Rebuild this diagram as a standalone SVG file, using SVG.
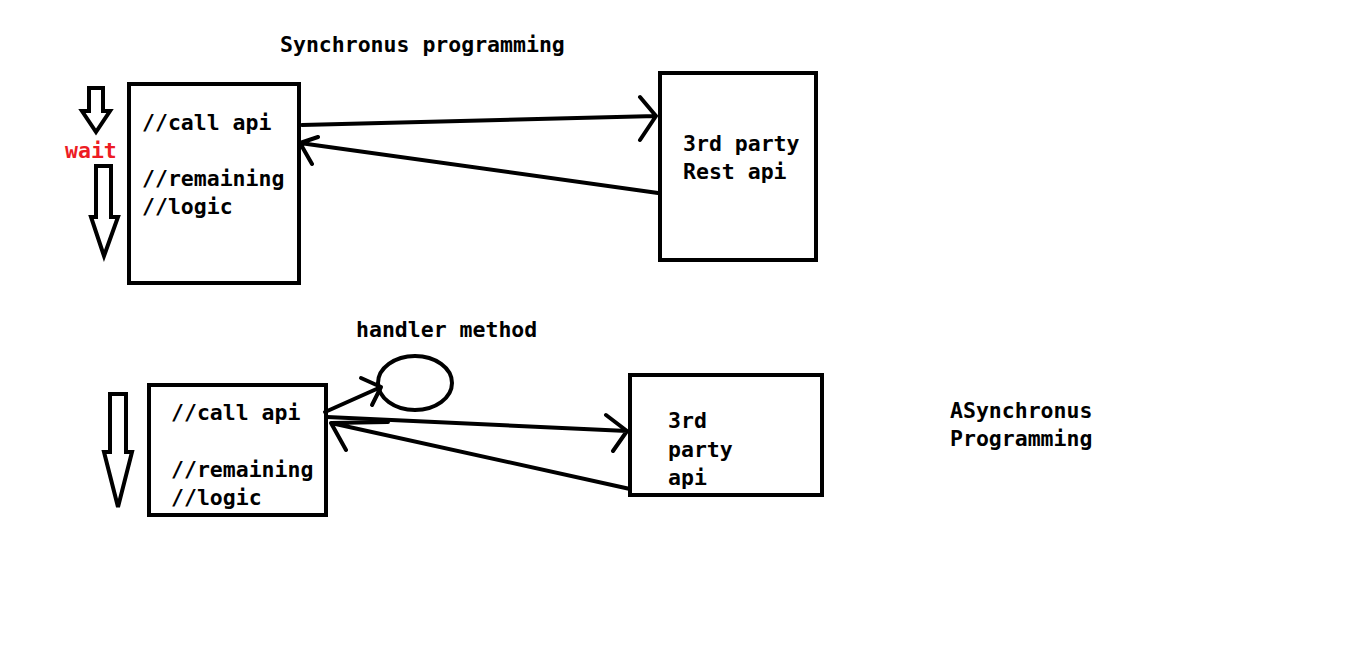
<svg xmlns="http://www.w3.org/2000/svg" width="1359" height="654" viewBox="0 0 1359 654">
<style>
.t{font-family:"DejaVu Sans Mono","Liberation Mono",monospace;font-weight:bold;font-size:21.5px;fill:#000}
.box{fill:#fff;stroke:#000;stroke-width:4}
.ln{fill:none;stroke:#000;stroke-width:4;stroke-linecap:round;stroke-linejoin:round}
.ho{fill:#fff;stroke:#000;stroke-width:4;stroke-linejoin:miter}
</style>
<rect width="1359" height="654" fill="#fff"/>
<text class="t" x="280" y="52">Synchronus programming</text>
<g id="sync-caller">
<rect class="box" x="129" y="84" width="170" height="199"/>
<text class="t" x="142" y="130">//call api</text>
<text class="t" x="142" y="186">//remaining</text>
<text class="t" x="142" y="214">//logic</text>
</g>
<g id="sync-api">
<rect class="box" x="660" y="73" width="156" height="187"/>
<text class="t" x="683" y="151">3rd party</text>
<text class="t" x="683" y="179">Rest api</text>
</g>
<g id="wait-arrows">
<polygon class="ho" points="89,88 103,88 103,111 110,111 96,132 82,111 89,111"/>
<text x="65" y="158" style="font-family:'DejaVu Sans Mono','Liberation Mono',monospace;font-weight:bold;font-size:21.5px;fill:#ed1c24">wait</text>
<polygon class="ho" points="96,166 111,166 111,217 118,217 104,256 91,217 96,217"/>
</g>
<g id="async-caller">
<rect class="box" x="149" y="385" width="177" height="130"/>
<text class="t" x="171" y="420">//call api</text>
<text class="t" x="171" y="477">//remaining</text>
<text class="t" x="171" y="505">//logic</text>
</g>
<g id="handler">
<text class="t" x="356" y="337">handler method</text>
<ellipse cx="415" cy="383" rx="37" ry="27" fill="#fff" stroke="#000" stroke-width="4"/>
</g>
<g id="async-api">
<rect class="box" x="630" y="375" width="192" height="120"/>
<text class="t" x="668" y="428">3rd</text>
<text class="t" x="668" y="457">party</text>
<text class="t" x="668" y="485">api</text>
</g>
<g id="async-arrow">
<polygon class="ho" points="110,394 126,394 126,452 132,452 118,507 104,452 110,452"/>
</g>
<text class="t" x="950" y="418">ASynchronus</text>
<text class="t" x="950" y="446">Programming</text>
<g id="connectors">
<path class="ln" d="M302,125 L656,116 M640,97 L656,116 L640,140"/>
<path class="ln" d="M658,193 L300,143 M318,137 L300,143 L312,164"/>
<path class="ln" d="M325,412 L381,387 M361,378 L381,387 L372,405"/>
<path class="ln" d="M327,417 L627,431 M606,415 L627,431 L613,451"/>
<path class="ln" d="M630,489 L331,423 M388,422 L331,423 L346,450"/>
</g>
</svg>
